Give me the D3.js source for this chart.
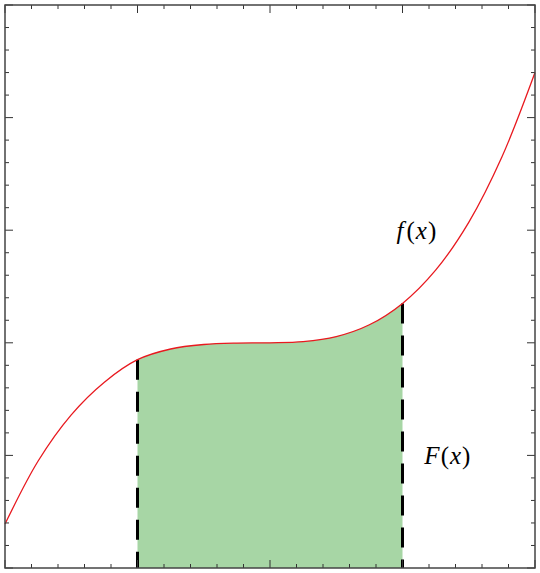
<!DOCTYPE html>
<html>
<head>
<meta charset="utf-8">
<script src="https://cdn.jsdelivr.net/npm/d3@7"></script>
<style>
  body { margin: 0; background: #fff; }
  svg { display: block; }
</style>
</head>
<body>
<div id="chart"></div>
<script>
// Courbe (x, f(x))
const xs = [0, 0.25, 0.5, 0.75, 1, 1.25, 1.5, 1.75, 2, 2.25, 2.5, 2.75, 3, 3.25, 3.5, 3.75, 4];
const fx = [0.39, 0.95, 1.36, 1.65, 1.85, 1.945, 1.985, 1.998, 2.0, 2.01, 2.055, 2.16, 2.35, 2.645, 3.07, 3.65, 4.40];
// Bornes de l'aire ombrée
const bounds = [1, 3];
// Graduations
const xMajor = [0, 1, 2, 3, 4];
const yMajor = [0, 1, 2, 3, 4, 5];
const minorStep = 0.2;
const labels = [
  { name: 'f', x: 2.955, y: 2.92 },
  { name: 'F', x: 3.165, y: 0.92 }
];

const width = 540;
const height = 573;
const mLeft = 5, mRight = 535, mTop = 5, mBottom = 568;

const svg = d3.select('#chart')
  .append('svg')
  .attr('width', width)
  .attr('height', height);

const x = d3.scaleLinear().domain([xMajor[0], xMajor[xMajor.length - 1]]).range([mLeft, mRight]);
const y = d3.scaleLinear().domain([yMajor[0], yMajor[yMajor.length - 1]]).range([mBottom, mTop]);

const points = xs.map((v, i) => [v, fx[i]]);
const curve = d3.curveCatmullRom.alpha(0.5);

// Zone de découpe entre les bornes
svg.append('clipPath')
  .attr('id', 'band')
  .append('rect')
  .attr('x', x(bounds[0])).attr('y', mTop)
  .attr('width', x(bounds[1]) - x(bounds[0]))
  .attr('height', mBottom - mTop);

// Aire verte
svg.append('path')
  .datum(points)
  .attr('clip-path', 'url(#band)')
  .attr('d', d3.area().x(d => x(d[0])).y0(y(0)).y1(d => y(d[1])).curve(curve))
  .style('fill', '#a7d6a5');

// Lignes verticales pointillées
bounds.forEach(b => {
  const v = fx[xs.indexOf(b)];
  svg.append('line')
    .attr('x1', x(b)).attr('x2', x(b))
    .attr('y1', y(v)).attr('y2', y(0))
    .style('stroke', '#000')
    .style('stroke-width', 3)
    .style('stroke-dasharray', '20,12');
});

// Courbe rouge
svg.append('path')
  .datum(points)
  .attr('d', d3.line().x(d => x(d[0])).y(d => y(d[1])).curve(curve))
  .style('fill', 'none')
  .style('stroke', '#e8191f')
  .style('stroke-width', 1.3);

// Graduations sur les quatre côtés, vers l'intérieur
const ticks = svg.append('g').style('stroke', '#333').style('stroke-width', 1);
const xMinor = d3.range(0, 4 + 1e-9, minorStep);
const yMinor = d3.range(0, 5 + 1e-9, minorStep);
function isMajor(v) { return Math.abs(v - Math.round(v)) < 1e-6; }

xMinor.forEach(v => {
  const len = isMajor(v) ? 8 : 4;
  ticks.append('line').attr('x1', x(v)).attr('x2', x(v)).attr('y1', mBottom).attr('y2', mBottom - len);
  ticks.append('line').attr('x1', x(v)).attr('x2', x(v)).attr('y1', mTop).attr('y2', mTop + len);
});
yMinor.forEach(v => {
  const len = isMajor(v) ? 8 : 4;
  ticks.append('line').attr('y1', y(v)).attr('y2', y(v)).attr('x1', mLeft).attr('x2', mLeft + len);
  ticks.append('line').attr('y1', y(v)).attr('y2', y(v)).attr('x1', mRight).attr('x2', mRight - len);
});

// Cadre
svg.append('rect')
  .attr('x', mLeft).attr('y', mTop)
  .attr('width', mRight - mLeft).attr('height', mBottom - mTop)
  .style('fill', 'none')
  .style('stroke', '#444')
  .style('stroke-width', 1.5);

// Étiquettes (espacement à la TeX)
labels.forEach(l => {
  const t = svg.append('text')
    .attr('x', x(l.x))
    .attr('y', y(l.y))
    .style('font-family', '"Liberation Serif", "DejaVu Serif", serif')
    .style('font-size', '25px')
    .style('fill', '#000');
  t.append('tspan').style('font-style', 'italic').text(l.name);
  t.append('tspan').attr('dx', l.name === 'f' ? 3 : 1).text('(');
  t.append('tspan').attr('dx', 1).style('font-style', 'italic').text('x');
  t.append('tspan').attr('dx', 1).text(')');
});
</script>
</body>
</html>
